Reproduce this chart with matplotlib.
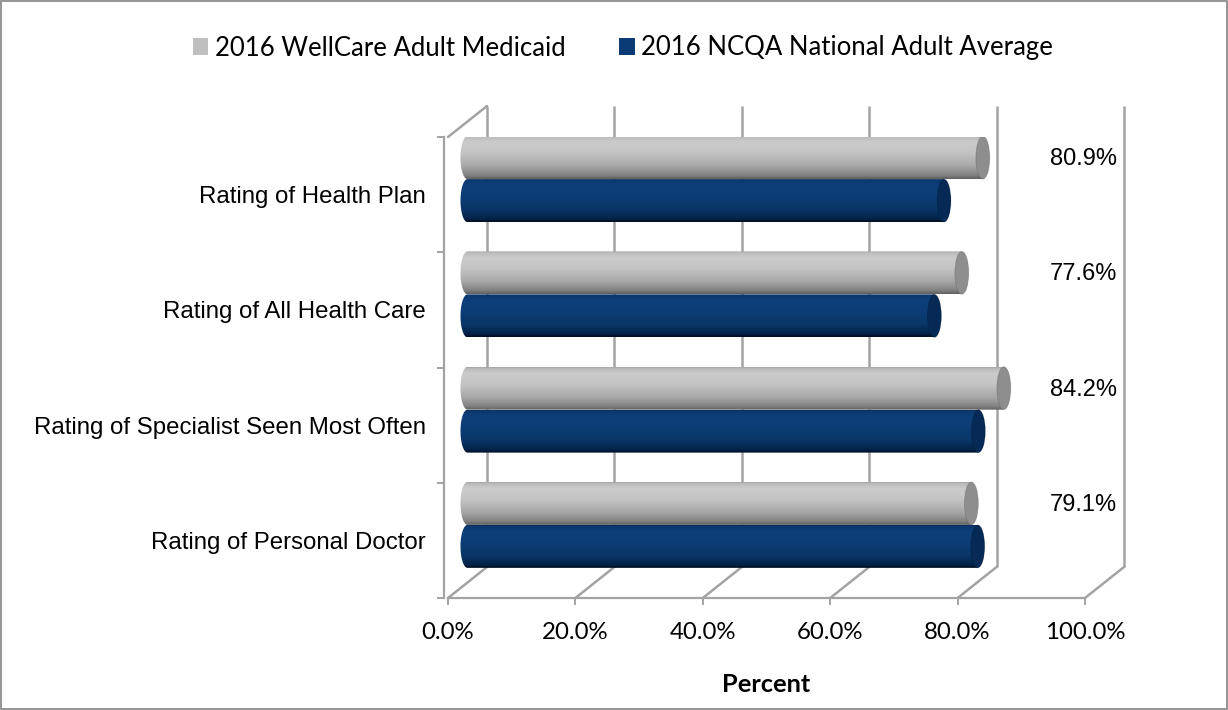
import numpy as np
import matplotlib
matplotlib.use("Agg")
import matplotlib.pyplot as plt
from matplotlib import transforms
from matplotlib.patches import Ellipse, PathPatch, Rectangle, Patch, ConnectionPatch
from matplotlib.path import Path
from matplotlib.colors import LinearSegmentedColormap

# ---- data -------------------------------------------------------------
categories = [
    "Rating of Personal Doctor",
    "Rating of Specialist Seen Most Often",
    "Rating of All Health Care",
    "Rating of Health Plan",
]
wellcare = [79.1, 84.2, 77.6, 80.9]
ncqa = [80.1, 80.2, 73.3, 74.8]
series_names = ["2016 WellCare Adult Medicaid", "2016 NCQA National Adult Average"]
x_ticks = [0, 20, 40, 60, 80, 100]
x_tick_labels = ["0.0%", "20.0%", "40.0%", "60.0%", "80.0%", "100.0%"]
x_title = "Percent"

# ---- style ------------------------------------------------------------
GRID = "#a3a3a3"
GRAY = "#bfbfbf"
NAVY = "#0b3b74"
LABEL_FONT = "Liberation Sans"
TICK_FONT = "Lato"

gray_cmap = LinearSegmentedColormap.from_list(
    "gray_cyl",
    [(0.0, "#5e5e5e"), (0.08, "#808080"), (0.3, "#a8a8a8"), (0.6, "#c4c4c4"),
     (0.85, "#cbcbcb"), (0.96, "#bcbcbc"), (1.0, "#a4a4a4")])
navy_cmap = LinearSegmentedColormap.from_list(
    "navy_cyl",
    [(0.0, "#000c1e"), (0.08, "#02234a"), (0.3, "#0a3668"), (0.6, "#0c3d76"),
     (0.85, "#0d3f7a"), (0.96, "#0b3a70"), (1.0, "#082f5e")])
cap_colors = {"gray": "#8e8e8e", "navy": "#062a55"}

fig = plt.figure(figsize=(12.28, 7.10), dpi=100)
fig.patch.set_facecolor("white")
fig.add_artist(Rectangle((0.0008, 0.0014), 0.9984, 0.9972, transform=fig.transFigure,
                         fill=False, ec="#8c8c8c", lw=1.3))

ax = fig.add_axes([448 / 1228, 112 / 710, 637 / 1228, 461 / 710])
ax.patch.set_visible(False)

# depth of the 3-D box, in pixels
DEPTH = (39, 31)


def depth_trans(frac):
    return ax.transData + transforms.ScaledTranslation(
        DEPTH[0] * frac / fig.dpi, DEPTH[1] * frac / fig.dpi, fig.dpi_scale_trans)


back = depth_trans(1.0)
mid = depth_trans(0.5)
n_cat = len(categories)

# back wall gridlines
for t in x_ticks:
    ax.plot([t, t], [0, n_cat], transform=back, color=GRID, lw=1.8,
            zorder=1, clip_on=False, solid_capstyle="butt")

# floor diagonals and the top edge of the side wall
for t in x_ticks:
    ax.add_artist(ConnectionPatch((t, 0), (t, 0), coordsA=ax.transData, coordsB=back,
                                  color=GRID, lw=1.8, zorder=1))
ax.add_artist(ConnectionPatch((0, n_cat), (0, n_cat), coordsA=ax.transData, coordsB=back,
                              color=GRID, lw=1.8, zorder=1))

# ---- cylinders ----------------------------------------------------------
bar_h = 0.373
cap_a = 1.1  # half width of the end ellipses, in axis units


def cylinder(value, yc, cmap, cap_color):
    y0, y1 = yc - bar_h / 2, yc + bar_h / 2
    theta = np.linspace(np.pi * 1.5, np.pi * 0.5, 40)
    arc = np.column_stack([cap_a * np.cos(theta), yc + bar_h / 2 * np.sin(theta)])
    verts = np.vstack([[[0, y1], [value, y1], [value, y0], [0, y0]], arc, [[0, y1]]])
    codes = [Path.MOVETO] + [Path.LINETO] * (len(verts) - 2) + [Path.CLOSEPOLY]
    body = PathPatch(Path(verts, codes), transform=mid, fc="none", ec="none")
    ax.add_patch(body)
    grad = np.linspace(0, 1, 256).reshape(-1, 1)
    im = ax.imshow(grad, extent=[-cap_a, value + cap_a, y0, y1], origin="lower",
                   cmap=cmap, aspect="auto", transform=mid, zorder=3,
                   interpolation="bilinear")
    im.set_clip_path(body)
    ax.add_patch(Ellipse((value, yc), 2 * cap_a, bar_h, transform=mid,
                         fc=cap_color, ec="#00000022", lw=0.6, zorder=3.5))


for i in range(n_cat):
    centre = i + 0.5
    cylinder(wellcare[i], centre + bar_h / 2, gray_cmap, cap_colors["gray"])
    cylinder(ncqa[i], centre - bar_h / 2, navy_cmap, cap_colors["navy"])
    ax.annotate(f"{wellcare[i]:.1f}%", xy=(100, centre + bar_h / 2), xycoords=mid,
                xytext=(9, -1), textcoords="offset points", ha="right", va="center",
                fontsize=17, family=LABEL_FONT, color="black")

# ---- axes -------------------------------------------------------------
ax.set_xlim(0, 100)
ax.set_ylim(0, n_cat)
for side in ("top", "right"):
    ax.spines[side].set_visible(False)
for side in ("left", "bottom"):
    ax.spines[side].set_color(GRID)
    ax.spines[side].set_linewidth(1.6)
ax.spines["left"].set_position(("outward", 3))

ax.set_xticks(x_ticks)
ax.set_xticklabels(x_tick_labels, fontsize=17.3, family=TICK_FONT)
ax.tick_params(axis="x", direction="out", length=5, width=1.4, color=GRID, pad=12)

ax.set_yticks(range(n_cat + 1))
ax.set_yticklabels([])
ax.set_yticks([i + 0.5 for i in range(n_cat)], minor=True)
ax.set_yticklabels(categories, minor=True, fontsize=17.3, family=LABEL_FONT)
ax.tick_params(axis="y", which="major", direction="out", length=5, width=1.4, color=GRID)
ax.tick_params(axis="y", which="minor", length=0, pad=13)

ax.set_xlabel(x_title, fontsize=18.3, family=TICK_FONT, fontweight="bold", labelpad=22)

fig.legend(handles=[Patch(fc=GRAY, ec="none"), Patch(fc=NAVY, ec="none")],
           labels=series_names, loc="center", bbox_to_anchor=(623 / 1228, 1 - 48 / 710),
           ncol=2, frameon=False, handlelength=0.6, handleheight=0.6,
           handletextpad=0.25, columnspacing=2.1,
           prop={"family": TICK_FONT, "size": 18.5})

fig.savefig("out.png", dpi=100, facecolor="white")
